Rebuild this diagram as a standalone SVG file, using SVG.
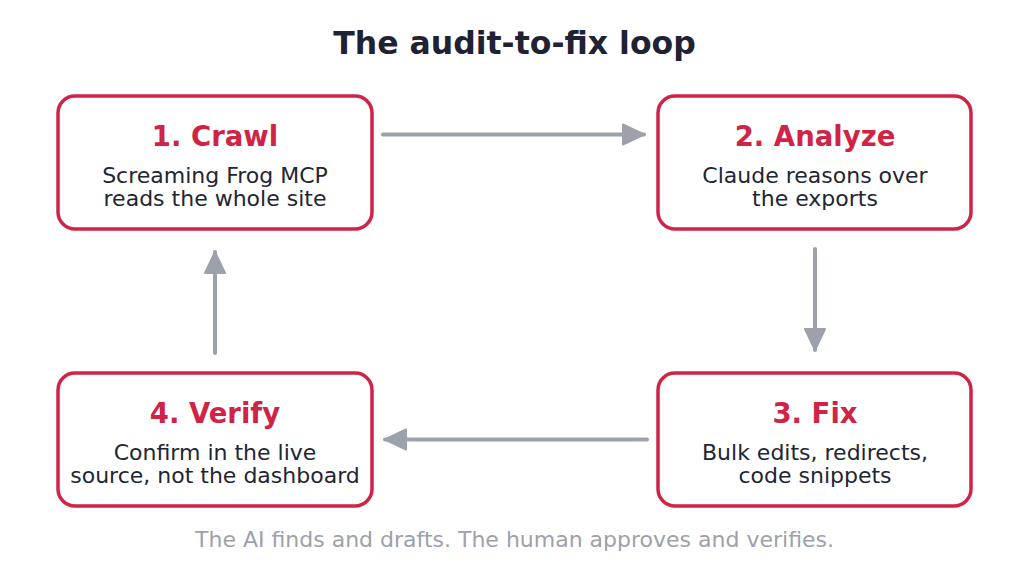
<svg xmlns="http://www.w3.org/2000/svg" width="1029" height="584" viewBox="0 0 1029 584">
<defs>
<marker id="ah" markerUnits="userSpaceOnUse" markerWidth="26" markerHeight="24" refX="21" refY="10" orient="auto" viewBox="-2 -2 26 24">
<path d="M0,0 L21,10 L0,20 Z" fill="#9ca1ab" stroke="#9ca1ab" stroke-width="2" stroke-linejoin="round"/>
</marker>
<style>
.box{fill:#fff;stroke:#cf2446;stroke-width:3.5}
.h{font-family:"DejaVu Sans",sans-serif;font-size:27.5px;font-weight:bold;fill:#cf2446;text-anchor:middle}
.b{font-family:"DejaVu Sans",sans-serif;font-size:22px;fill:#222533;text-anchor:middle}
.c{stroke:#9ca1ab;stroke-width:4;fill:none;stroke-linecap:round;marker-end:url(#ah)}
</style>
</defs>
<rect width="1029" height="584" fill="#fff"/>
<text x="514.5" y="54" font-family="DejaVu Sans,sans-serif" font-size="31.5" font-weight="bold" fill="#1f2233" text-anchor="middle">The audit-to-fix loop</text>
<g id="connectors">
<line class="c" x1="383" y1="134.5" x2="644" y2="134.5"/>
<line class="c" x1="815" y1="249" x2="815" y2="350"/>
<line class="c" x1="647" y1="439.5" x2="385" y2="439.5"/>
<line class="c" x1="215" y1="353" x2="215" y2="252"/>
</g>
<g id="n1">
<rect class="box" x="58" y="96" width="314" height="133" rx="17"/>
<text class="h" x="215" y="146">1. Crawl</text>
<text class="b" x="215" y="183">Screaming Frog MCP</text>
<text class="b" x="215" y="206">reads the whole site</text>
</g>
<g id="n2">
<rect class="box" x="658" y="96" width="313" height="133" rx="17"/>
<text class="h" x="815" y="146">2. Analyze</text>
<text class="b" x="815" y="183">Claude reasons over</text>
<text class="b" x="815" y="206">the exports</text>
</g>
<g id="n3">
<rect class="box" x="658" y="373" width="313" height="133" rx="17"/>
<text class="h" x="815" y="423">3. Fix</text>
<text class="b" x="815" y="460">Bulk edits, redirects,</text>
<text class="b" x="815" y="483">code snippets</text>
</g>
<g id="n4">
<rect class="box" x="58" y="373" width="314" height="133" rx="17"/>
<text class="h" x="215" y="423">4. Verify</text>
<text class="b" x="215" y="460">Confirm in the live</text>
<text class="b" x="215" y="483">source, not the dashboard</text>
</g>
<text x="514.5" y="547" font-family="DejaVu Sans,sans-serif" font-size="22" fill="#9ca1ab" text-anchor="middle">The AI finds and drafts. The human approves and verifies.</text>
</svg>
